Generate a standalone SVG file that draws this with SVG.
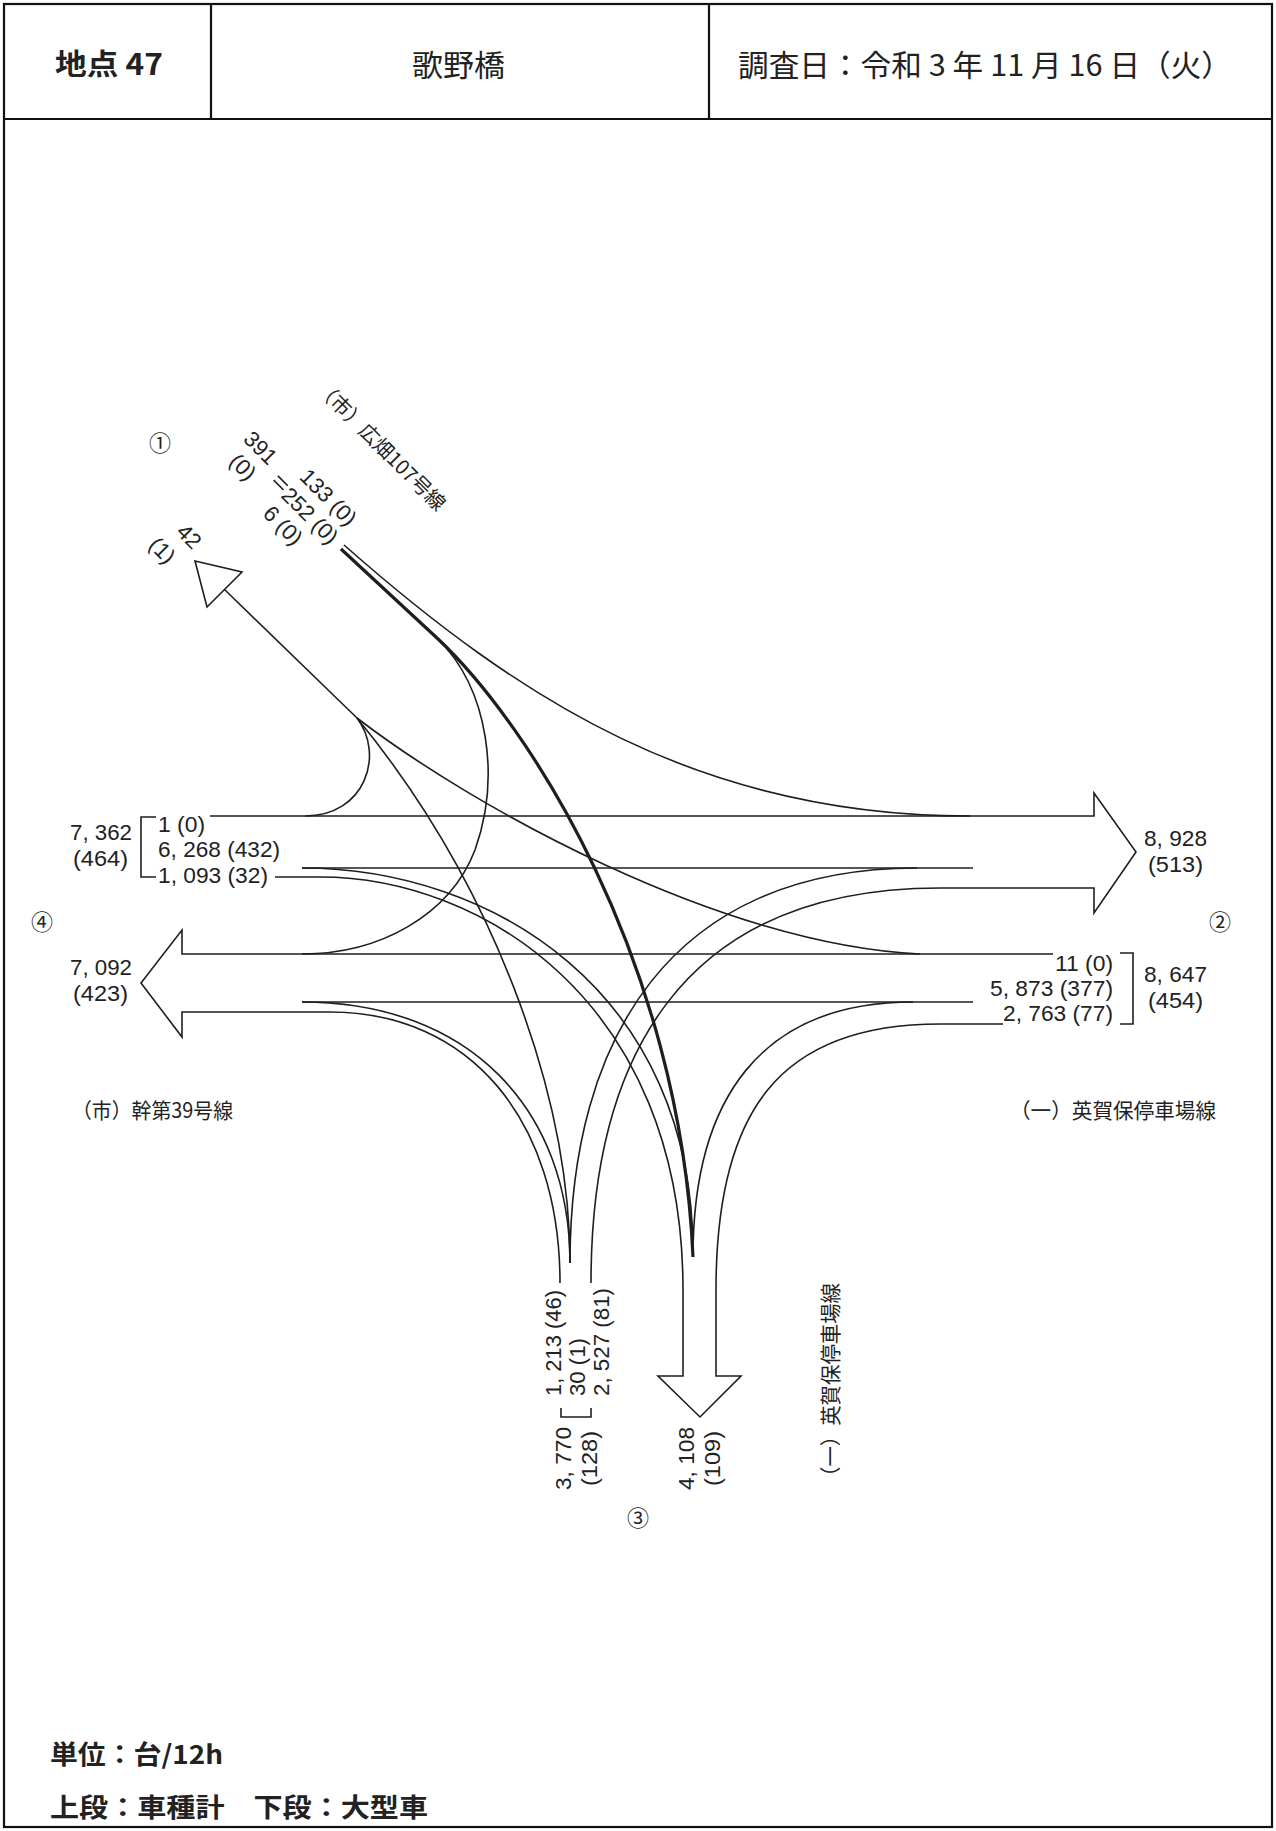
<svg xmlns="http://www.w3.org/2000/svg" width="1276" height="1831" viewBox="0 0 1276 1831">
<style>
.ln{fill:none;stroke:#1e1e1e;stroke-width:1.6;stroke-linejoin:miter}
.thk{fill:none;stroke:#1e1e1e;stroke-width:3.2}
.frame{fill:none;stroke:#111;stroke-width:2.2}
.num{font-family:"Liberation Sans","Noto Sans CJK JP",sans-serif;font-size:22px;fill:#222}
.rn{font-family:"Liberation Sans","Noto Sans CJK JP",sans-serif;font-size:22px;fill:#222}
.jp{font-family:"Noto Sans CJK JP",sans-serif;fill:#222}
.cir{font-family:"Noto Sans CJK JP",sans-serif;font-size:22px;fill:#222;text-anchor:middle}
</style>
<rect width="1276" height="1831" fill="#fff"/>

<g id="frame">
<rect class="frame" x="4" y="4" width="1268" height="1823"/>
<line class="frame" x1="4" y1="119" x2="1272" y2="119"/>
<line class="frame" x1="211" y1="4" x2="211" y2="119"/>
<line class="frame" x1="709" y1="4" x2="709" y2="119"/>
</g>

<g id="header">
<text class="jp" x="55" y="75" font-size="29" font-weight="bold" textLength="108" lengthAdjust="spacingAndGlyphs">地点 47</text>
<text class="jp" x="412" y="76" font-size="30" textLength="93" lengthAdjust="spacingAndGlyphs">歌野橋</text>
<text class="jp" x="738" y="76" font-size="30" textLength="494" lengthAdjust="spacingAndGlyphs">調査日：令和 3 年 11 月 16 日（火）</text>
</g>

<g id="connectors">
<path class="ln" d="M210 816 H1094 V793 L1136 852 L1094 913 V888 H940 C680 888 591 1060 591 1283"/>
<path class="ln" d="M302 868 H973"/>
<path class="ln" d="M1053 954 H182 V930 L141 983 L182 1037 V1012 H330 C470 1012 560 1120 560 1283"/>
<path class="ln" d="M302 1002 H973"/>
<path class="ln" d="M275 877 H320 C480 877 683 1000 683 1290 V1376 H658 L700 1417 L741 1376 H716 V1290 C716 1110 780 1024 940 1024 H1003"/>
<path class="ln" d="M302 868 C490 868 695 990 693 1257"/>
<path class="ln" d="M302 1002 C470 1002 570 1110 570 1263"/>
<path class="ln" d="M917 868 C670 868 570 1040 570 1263"/>
<path class="ln" d="M913 1002 C760 1002 693 1100 693 1257"/>
<path class="ln" d="M570 1263 C570 1090 490 880 357 718"/>
<path class="ln" d="M920 954 C720 945 470 805 357 718"/>
<path class="ln" d="M305 816 C365 816 385 755 357 718"/>
<path class="ln" d="M224.5 589.5 L357 718"/>
<path class="ln" d="M195 561 L242 572 L207 607 Z" fill="#fff"/>
<path class="ln" d="M344 545 C520 700 700 816 970 816"/>
<path class="ln" d="M341 549 L437 638 C490 690 500 780 475 850 C450 915 380 954 302 954"/>
<path class="thk" d="M341 549 L437 638 C530 725 680 960 693 1257"/>
<path class="ln" d="M156 817 H141 V877 H156"/>
<path class="ln" d="M1120 953 H1133 V1024 H1120"/>
<path class="ln" d="M561 1408 V1417 H591 V1408"/>
</g>

<g id="approach-1">
<text class="cir" x="160" y="451">①</text>
<g transform="rotate(45)">
<text class="jp" x="584.7" y="53" font-size="20" text-anchor="middle" textLength="173" lengthAdjust="spacingAndGlyphs">（市）広畑107号線</text>
<text class="rn" x="501" y="140" text-anchor="middle">391</text>
<text class="rn" x="502" y="166" text-anchor="middle">(0)</text>
<path class="ln" d="M533 140 H547 M533 146 H547" stroke-width="2"/>
<text class="rn" x="549" y="127">133 (0)</text>
<text class="rn" x="549" y="153">252 (0)</text>
<text class="rn" x="549" y="179">6 (0)</text>
<text class="rn" x="513" y="253" text-anchor="middle">42</text>
<text class="rn" x="504" y="282" text-anchor="middle">(1)</text>
</g>
</g>

<g id="approach-4">
<text class="cir" x="42" y="930">④</text>
<text class="num" x="70" y="840" textLength="62" lengthAdjust="spacingAndGlyphs">7, 362</text>
<text class="num" x="73" y="866" textLength="55" lengthAdjust="spacingAndGlyphs">(464)</text>
<text class="num" x="158" y="832" textLength="47" lengthAdjust="spacingAndGlyphs">1 (0)</text>
<text class="num" x="158" y="857" textLength="122" lengthAdjust="spacingAndGlyphs">6, 268 (432)</text>
<text class="num" x="158" y="883" textLength="110" lengthAdjust="spacingAndGlyphs">1, 093 (32)</text>
<text class="num" x="70" y="975" textLength="62" lengthAdjust="spacingAndGlyphs">7, 092</text>
<text class="num" x="73" y="1001" textLength="55" lengthAdjust="spacingAndGlyphs">(423)</text>
<text class="jp" x="72" y="1118" font-size="21" textLength="161" lengthAdjust="spacingAndGlyphs">（市）幹第39号線</text>
</g>

<g id="approach-2">
<text class="cir" x="1220" y="930">②</text>
<text class="num" x="1144" y="846" textLength="63" lengthAdjust="spacingAndGlyphs">8, 928</text>
<text class="num" x="1148" y="872" textLength="55" lengthAdjust="spacingAndGlyphs">(513)</text>
<text class="num" x="1055" y="971" textLength="58" lengthAdjust="spacingAndGlyphs">11 (0)</text>
<text class="num" x="990" y="996" textLength="123" lengthAdjust="spacingAndGlyphs">5, 873 (377)</text>
<text class="num" x="1003" y="1021" textLength="110" lengthAdjust="spacingAndGlyphs">2, 763 (77)</text>
<text class="num" x="1144" y="982" textLength="63" lengthAdjust="spacingAndGlyphs">8, 647</text>
<text class="num" x="1148" y="1008" textLength="55" lengthAdjust="spacingAndGlyphs">(454)</text>
<text class="jp" x="1010" y="1118" font-size="21" textLength="206" lengthAdjust="spacingAndGlyphs">（一）英賀保停車場線</text>
</g>

<g id="approach-3">
<text class="cir" x="638" y="1526">③</text>
<text class="num" transform="translate(561,1396) rotate(-90)" textLength="106" lengthAdjust="spacingAndGlyphs">1, 213 (46)</text>
<text class="num" transform="translate(585,1396) rotate(-90)" textLength="58" lengthAdjust="spacingAndGlyphs">30 (1)</text>
<text class="num" transform="translate(609,1396) rotate(-90)" textLength="108" lengthAdjust="spacingAndGlyphs">2, 527 (81)</text>
<text class="num" transform="translate(571,1490) rotate(-90)" textLength="63" lengthAdjust="spacingAndGlyphs">3, 770</text>
<text class="num" transform="translate(597,1486) rotate(-90)" textLength="55" lengthAdjust="spacingAndGlyphs">(128)</text>
<text class="num" transform="translate(694,1490) rotate(-90)" textLength="63" lengthAdjust="spacingAndGlyphs">4, 108</text>
<text class="num" transform="translate(720,1486) rotate(-90)" textLength="55" lengthAdjust="spacingAndGlyphs">(109)</text>
<text class="jp" transform="translate(838,1487) rotate(-90)" font-size="21" textLength="204" lengthAdjust="spacingAndGlyphs">（一）英賀保停車場線</text>
</g>

<g id="legend">
<text class="jp" x="50" y="1764" font-size="26" font-weight="bold" textLength="173" lengthAdjust="spacingAndGlyphs">単位：台/12h</text>
<text class="jp" x="50" y="1817" font-size="26" font-weight="bold" textLength="378" lengthAdjust="spacingAndGlyphs">上段：車種計　下段：大型車</text>
</g>
</svg>
